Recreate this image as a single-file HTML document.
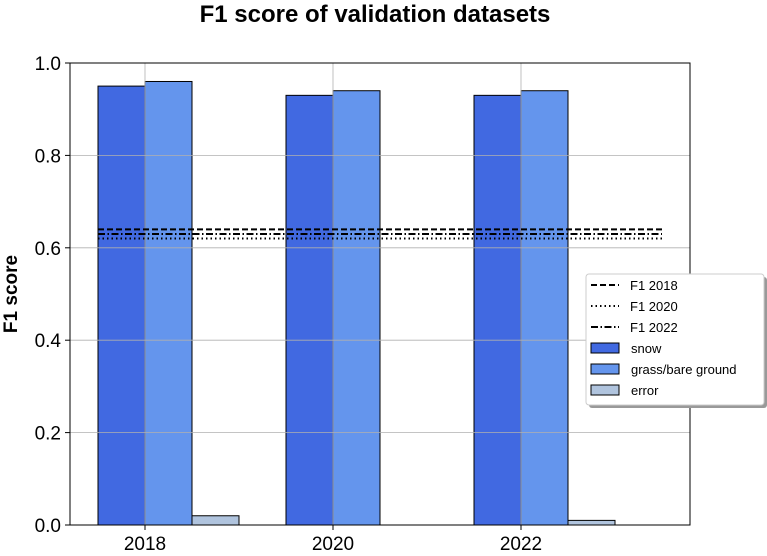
<!DOCTYPE html>
<html><head><meta charset="utf-8"><style>
body{margin:0;background:#fff;}
svg text{font-family:"Liberation Sans","DejaVu Sans",sans-serif;}
</style></head><body>
<svg id="chart" width="767" height="551" xmlns="http://www.w3.org/2000/svg">
<text x="375" y="22" text-anchor="middle" font-size="24" font-weight="bold">F1 score of validation datasets</text>
<text transform="translate(17,294) rotate(-90)" text-anchor="middle" font-size="19" font-weight="bold">F1 score</text>
<g id="bars"></g><g id="grid"></g><g id="lines"></g>
<rect x="70" y="63" width="620" height="462" fill="none" stroke="#000" stroke-width="1"/>
<g id="ticks"></g>
<g>
<rect x="589" y="277" width="178" height="131" rx="3" fill="#999"/>
<rect x="586" y="274" width="178" height="131" rx="3" fill="#fff" stroke="#ccc"/>
<g id="legend-items"></g>
</g>
</svg>
<script>
const years=["2018","2020","2022"];
const snow=[0.95,0.93,0.93];
const grass=[0.96,0.94,0.94];
const errorVals=[0.02,0.0,0.01];
const f1Names=["F1 2018","F1 2020","F1 2022"];
const f1Vals=[0.64,0.62,0.63];
const yTicks=[0,0.2,0.4,0.6,0.8,1.0];
const NS="http://www.w3.org/2000/svg";
const y=v=>525-v*462;
const xc=i=>145+i*188;
const BW=47;
function mk(t,a,p){const e=document.createElementNS(NS,t);for(const k in a)e.setAttribute(k,a[k]);p.appendChild(e);return e;}
const bars=document.getElementById('bars');
const series=[[snow,"#4169e1","snow"],[grass,"#6495ed","grass"],[errorVals,"#b0c4de","error"]];
years.forEach((yr,i)=>{series.forEach((s,j)=>{
 const v=s[0][i];const r=mk('rect',{x:xc(i)-BW+j*BW,y:y(v),width:BW,height:v*462,fill:s[1],stroke:"#000","stroke-width":1},bars);
 
 
});});
const grid=document.getElementById('grid');const ticks=document.getElementById('ticks');
yTicks.forEach(t=>{
 const l=mk('line',{x1:70,x2:690,y1:y(t),y2:y(t),stroke:"#b0b0b0","stroke-width":0.8},grid);
 
 mk('line',{x1:65,x2:70,y1:y(t),y2:y(t),stroke:"#000"},ticks);
 const tx=mk('text',{x:61,y:y(t)+7,"text-anchor":"end","font-size":19},ticks);tx.textContent=t.toFixed(1);
 
});
years.forEach((yr,i)=>{
 const l=mk('line',{x1:xc(i),x2:xc(i),y1:63,y2:525,stroke:"#b0b0b0","stroke-width":0.8},grid);
 
 mk('line',{x1:xc(i),x2:xc(i),y1:525,y2:530,stroke:"#000"},ticks);
 const tx=mk('text',{x:xc(i),y:550,"text-anchor":"middle","font-size":19},ticks);tx.textContent=yr;
 
});
const dashes=["6,3","1.5,3","7,2.5,1.5,2.5"];
const lines=document.getElementById('lines');
f1Vals.forEach((v,i)=>{
 const l=mk('line',{x1:98,x2:662,y1:y(v),y2:y(v),stroke:"#000","stroke-width":2,"stroke-dasharray":dashes[i]},lines);
 
});
const li=document.getElementById('legend-items');
f1Names.forEach((n,i)=>{
 const yy=285+i*21;
 mk('line',{x1:591,x2:619,y1:yy,y2:yy,stroke:"#000","stroke-width":2,"stroke-dasharray":dashes[i]},li);
 const t=mk('text',{x:630,y:yy+5,"font-size":13},li);t.textContent=n;
 
});
series.forEach((s,j)=>{
 const yy=348+j*21;
 mk('rect',{x:591,y:yy-5,width:28,height:10,fill:s[1],stroke:"#000"},li);
 const t=mk('text',{x:631,y:yy+5,"font-size":13},li);t.textContent=["snow","grass/bare ground","error"][j];
 
});
</script>
</body></html>
